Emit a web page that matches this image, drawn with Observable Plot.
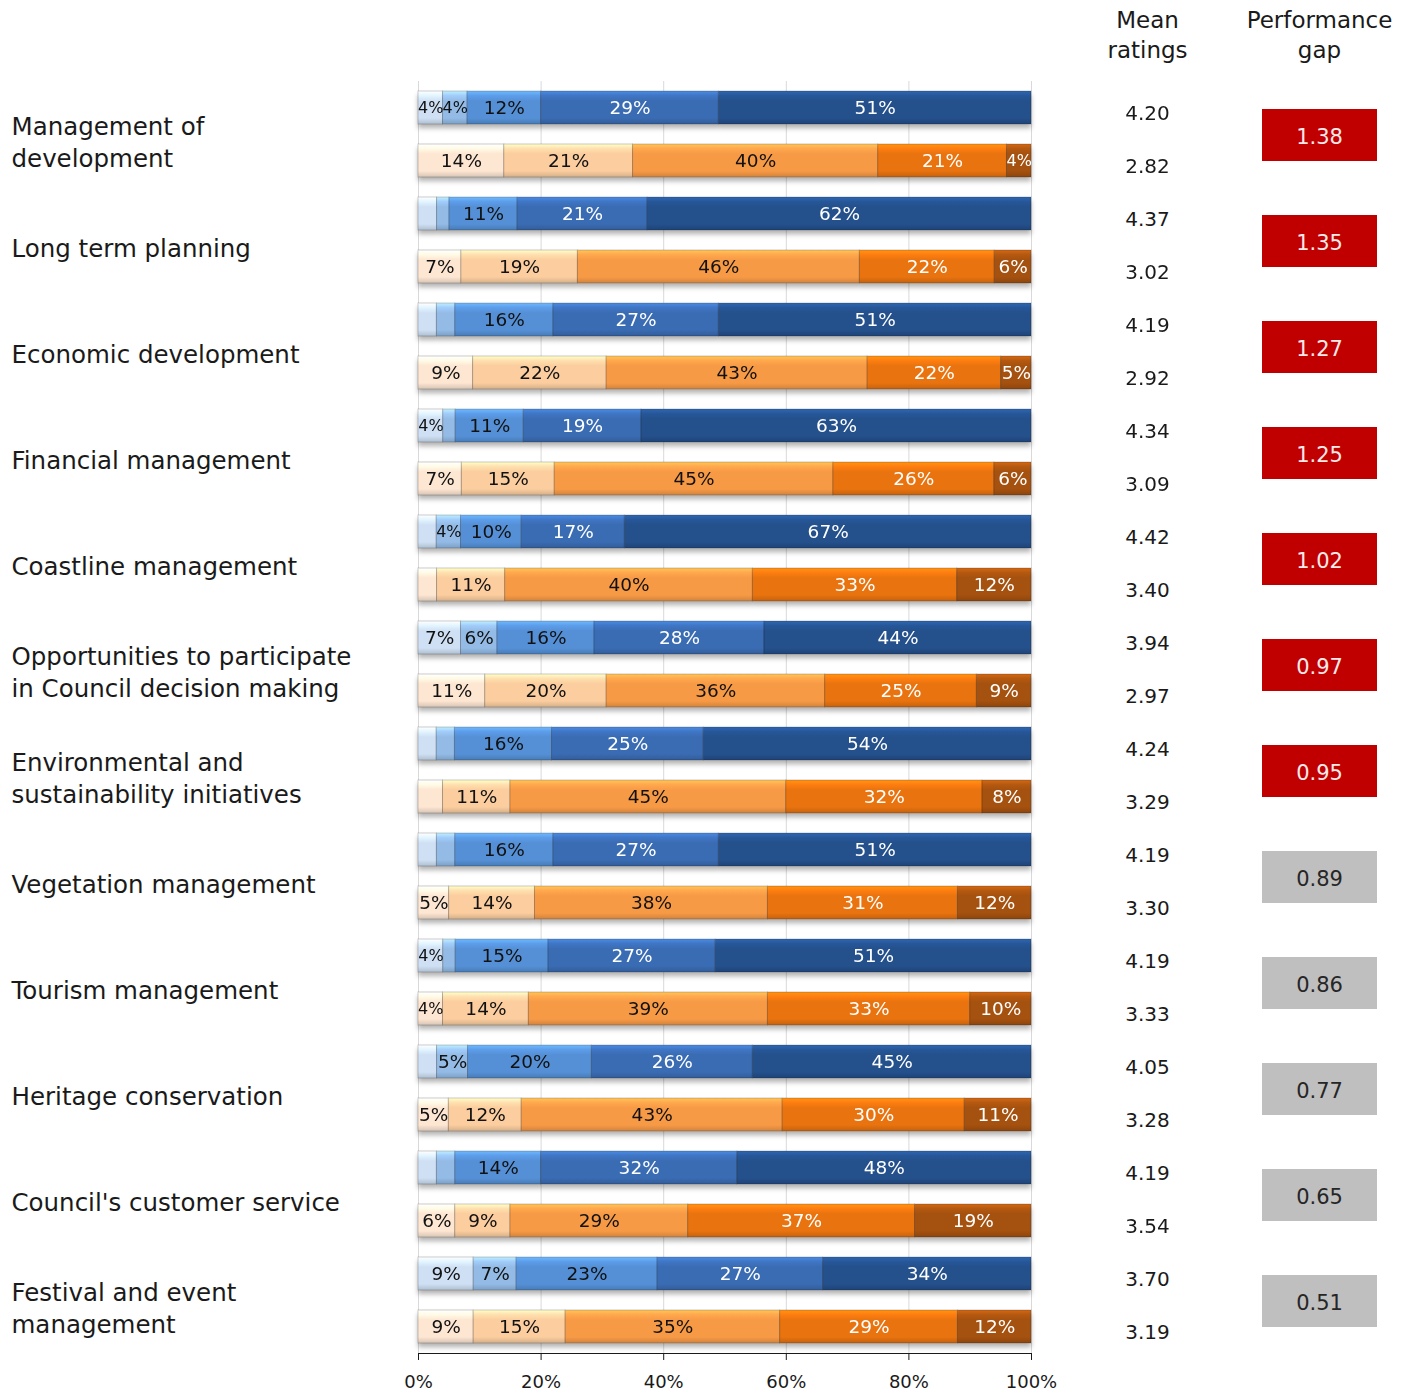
<!DOCTYPE html>
<html>
<head>
<meta charset="utf-8">
<script src="https://cdn.jsdelivr.net/npm/d3@7"></script>
<script src="https://cdn.jsdelivr.net/npm/@observablehq/plot@0.6"></script>
<style>
  body { margin: 0; background: #fff; }
  #chart { position: relative; width: 1411px; height: 1394px; background: #fff; }
  #chart svg { position: absolute; top: 0; overflow: visible; }
  [aria-label="x-axis"] line, [aria-label="x-axis"] path,
  [aria-label="x-axis tick"], [aria-label="x-axis line"] { stroke: #8c8c8c; }
</style>
</head>
<body>
<div id="chart"></div>
<script>
// Service areas, ranked by performance gap
const categories = [
  "Management of development",
  "Long term planning",
  "Economic development",
  "Financial management",
  "Coastline management",
  "Opportunities to participate in Council decision making",
  "Environmental and sustainability initiatives",
  "Vegetation management",
  "Tourism management",
  "Heritage conservation",
  "Council's customer service",
  "Festival and event management"
];
const categoryLabels = [
  "Management of\ndevelopment",
  "Long term planning",
  "Economic development",
  "Financial management",
  "Coastline management",
  "Opportunities to participate\nin Council decision making",
  "Environmental and\nsustainability initiatives",
  "Vegetation management",
  "Tourism management",
  "Heritage conservation",
  "Council's customer service",
  "Festival and event\nmanagement"
];

// Rating distributions (%), levels 1 (lowest) to 5 (highest)
const importance = [
  [4, 4, 12, 29, 51],
  [3, 2, 11, 21, 62],
  [3, 3, 16, 27, 51],
  [4, 2, 11, 19, 63],
  [3, 4, 10, 17, 67],
  [7, 6, 16, 28, 44],
  [3, 3, 16, 25, 54],
  [3, 3, 16, 27, 51],
  [4, 2, 15, 27, 51],
  [3, 5, 20, 26, 45],
  [3, 3, 14, 32, 48],
  [9, 7, 23, 27, 34]
];
const satisfaction = [
  [14, 21, 40, 21, 4],
  [7, 19, 46, 22, 6],
  [9, 22, 43, 22, 5],
  [7, 15, 45, 26, 6],
  [3, 11, 40, 33, 12],
  [11, 20, 36, 25, 9],
  [4, 11, 45, 32, 8],
  [5, 14, 38, 31, 12],
  [4, 14, 39, 33, 10],
  [5, 12, 43, 30, 11],
  [6, 9, 29, 37, 19],
  [9, 15, 35, 29, 12]
];
// Segments drawn without a value label: [category index, type, level]
const unlabeled = [[6, "Satisfaction", 1]];

// Mean ratings and performance gap (importance − satisfaction)
const meanImportance = [4.20, 4.37, 4.19, 4.34, 4.42, 3.94, 4.24, 4.19, 4.19, 4.05, 4.19, 3.70];
const meanSatisfaction = [2.82, 3.02, 2.92, 3.09, 3.40, 2.97, 3.29, 3.30, 3.33, 3.28, 3.54, 3.19];
const performanceGap = [1.38, 1.35, 1.27, 1.25, 1.02, 0.97, 0.95, 0.89, 0.86, 0.77, 0.65, 0.51];

const types = ["Importance", "Satisfaction"];
const columns = ["Mean ratings", "Performance gap"];
const xTicks = [0, 0.2, 0.4, 0.6, 0.8, 1];

const importanceColors = ["#cfe0f4", "#93bbe6", "#5590d6", "#3a6cb3", "#24508c"];
const satisfactionColors = ["#fde6d2", "#fbcd9f", "#f79a46", "#e8730f", "#a5510f"];

const FONT = "DejaVu Sans";

// Long-format table for the stacked bars
const rows = [];
categories.forEach((category, i) => {
  [[types[0], importance[i]], [types[1], satisfaction[i]]].forEach(([type, values]) => {
    values.forEach((value, j) => {
      const hidden = unlabeled.some(([c, t, l]) => c === i && t === type && l === j + 1);
      rows.push({category, type, level: j + 1, key: `${type}-${j + 1}`, value, labelled: value >= 4 && !hidden});
    });
  });
});
const colorKeys = types.flatMap(t => [1, 2, 3, 4, 5].map(l => `${t}-${l}`));
const gradientIds = colorKeys.map((k, i) => `bevel-${i}`);
const baseColors = [...importanceColors, ...satisfactionColors];

const stackOpts = {x: "value", y: "type", fy: "category", offset: "normalize"};
const labelSize = d => d.value <= 4 ? 16 : 18.5;

const bars = Plot.plot({
  width: 1060,
  height: 1394,
  marginLeft: 418,
  marginRight: 29,
  marginTop: 81,
  marginBottom: 41,
  style: {fontFamily: FONT, fontSize: "18px", color: "#1a1a1a", background: "white"},
  x: {domain: [0, 1], ticks: xTicks, tickFormat: d3.format(".0%"), tickSize: 7, tickPadding: 15, line: true, label: null},
  y: {domain: types, axis: null, paddingInner: 0.38, paddingOuter: 0.19},
  fy: {domain: categories, axis: null, padding: 0},
  color: {domain: colorKeys, range: gradientIds.map(id => `url(#${id})`)},
  marks: [
    Plot.ruleX(xTicks, {stroke: "#d9d9d9", strokeWidth: 1}),
    Plot.barX(rows, Plot.stackX({...stackOpts, fill: "key", stroke: "rgba(0,0,0,0.2)", strokeWidth: 1})),
    Plot.text(rows, Plot.stackX({...stackOpts,
      text: d => d.labelled && d.level <= 3 ? `${d.value}%` : "",
      fill: "#111", fontSize: labelSize})),
    Plot.text(rows, Plot.stackX({...stackOpts,
      text: d => d.labelled && d.level > 3 ? `${d.value}%` : "",
      fill: "#ffffff", fontSize: labelSize})),
    Plot.text(categories, {fy: d => d, text: (d, i) => categoryLabels[i],
      frameAnchor: "left", textAnchor: "start", dx: -407, dy: 6,
      fontSize: 24.5, lineHeight: 1.33, fill: "#1a1a1a"})
  ]
});

// Bevelled fill for each segment colour
const defs = d3.select(bars).insert("defs", ":first-child");
baseColors.forEach((c, i) => {
  const g = defs.append("linearGradient").attr("id", gradientIds[i])
    .attr("x1", 0).attr("y1", 0).attr("x2", 0).attr("y2", 1);
  const col = d3.color(c);
  [[0, col.brighter(0.7)], [0.14, col.brighter(0.25)], [0.3, col], [0.82, col], [1, col.darker(0.45)]]
    .forEach(([o, cc]) => g.append("stop").attr("offset", o).attr("stop-color", cc.formatHex()));
});
bars.querySelectorAll('g[aria-label="bar"]').forEach(g => {
  g.style.filter = "drop-shadow(0px 4px 2.5px rgba(0,0,0,0.3))";
});

// Mean ratings and performance gap columns
const meanRows = categories.flatMap((category, i) => [
  {category, type: types[0], mean: meanImportance[i]},
  {category, type: types[1], mean: meanSatisfaction[i]}
]);
const gapRows = categories.map((category, i) => ({category, gap: performanceGap[i]}));
const highlight = d => d.gap > 0.9;

const table = Plot.plot({
  width: 351,
  height: 1394,
  marginLeft: 0,
  marginRight: 6,
  marginTop: 81,
  marginBottom: 41,
  style: {fontFamily: FONT, fontSize: "20px", color: "#1a1a1a", background: "transparent"},
  x: {domain: columns, axis: null, padding: 0},
  y: {domain: types, axis: null, paddingInner: 0.38, paddingOuter: 0.19},
  fy: {domain: categories, axis: null, padding: 0},
  color: {type: "identity"},
  marks: [
    Plot.cell(gapRows, {x: () => columns[1], fy: "category",
      fill: d => highlight(d) ? "#c00000" : "#bfbfbf",
      insetTop: 28, insetBottom: 26, insetLeft: 29, insetRight: 28}),
    Plot.text(gapRows, {x: () => columns[1], fy: "category", text: d => d.gap.toFixed(2),
      fill: d => highlight(d) ? "#fbeaea" : "#262626", fontSize: 21, dy: 3}),
    Plot.text(meanRows, {x: () => columns[0], y: "type", fy: "category",
      text: d => d.mean.toFixed(2), fill: "#1a1a1a", fontSize: 20, dy: 5}),
    Plot.text(columns, {x: d => d, fy: () => categories[0], text: d => d.replace(" ", "\n"),
      frameAnchor: "top", lineAnchor: "bottom", dy: -24, fontSize: 23, lineHeight: 1.27, fill: "#1a1a1a"})
  ]
});

const chart = document.getElementById("chart");
bars.style.left = "0px";
table.style.left = "1060px";
chart.append(bars, table);
</script>
</body>
</html>
